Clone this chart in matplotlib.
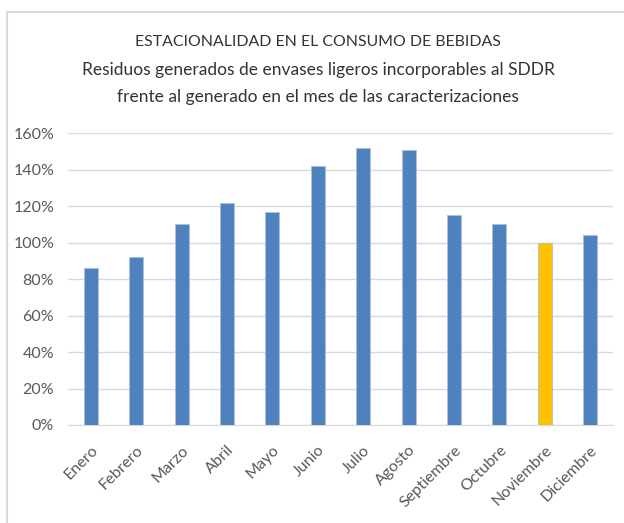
import matplotlib
matplotlib.use("Agg")
import matplotlib.pyplot as plt
from matplotlib.patches import Rectangle
from matplotlib.ticker import FuncFormatter

months = ["Enero", "Febrero", "Marzo", "Abril", "Mayo", "Junio", "Julio",
          "Agosto", "Septiembre", "Octubre", "Noviembre", "Diciembre"]
values = [86, 92, 110, 122, 117, 142, 152, 151, 115, 110, 100, 104]
highlight = "Noviembre"
yticks = [0, 20, 40, 60, 80, 100, 120, 140, 160]

blue = "#4F81BD"
gold = "#FFC000"
colors = [gold if m == highlight else blue for m in months]

plt.rcParams['font.family'] = ['Lato', 'DejaVu Sans']

fig = plt.figure(figsize=(6.24, 5.23), dpi=100)
fig.patches.append(Rectangle((7/624, -0.05), 1.05, (523-12)/523 + 0.05,
                             transform=fig.transFigure, fill=False,
                             edgecolor="#d9d9d9", linewidth=1.5))

ax = fig.add_axes([68/624, (523-425)/523, (613-68)/624, (425-133.3)/523])
x = list(range(len(months)))
ax.bar(x, values, width=0.31, color=colors, edgecolor="#a9c0e0", linewidth=0.6, zorder=3)
ax.set_xlim(-0.5, len(months) - 0.5)
ax.set_ylim(0, 160)
ax.set_yticks(yticks)
ax.yaxis.set_major_formatter(FuncFormatter(lambda v, p: f"{int(v)}%"))
ax.set_xticks(x)
ax.set_xticklabels(months, rotation=45, ha="right", rotation_mode="anchor",
                   fontsize=11.5, color="#595959")
ax.tick_params(axis="y", labelsize=11.5, labelcolor="#595959", length=0, pad=10)
ax.tick_params(axis="x", length=0, pad=13)
ax.grid(axis="y", color="#d9d9d9", linewidth=1, zorder=0)
for s in ["top", "right", "left"]:
    ax.spines[s].set_visible(False)
ax.spines["bottom"].set_color("#d9d9d9")

fig.text(0.51, 1 - 42/523, "ESTACIONALIDAD EN EL CONSUMO DE BEBIDAS",
         ha="center", va="center", fontsize=11.4, color="#333333")
fig.text(0.51, 1 - 70/523, "Residuos generados de envases ligeros incorporables al SDDR",
         ha="center", va="center", fontsize=12.5, color="#333333")
fig.text(0.51, 1 - 97/523, "frente al generado en el mes de las caracterizaciones",
         ha="center", va="center", fontsize=12.5, color="#333333")

fig.savefig("out.png", dpi=100)
